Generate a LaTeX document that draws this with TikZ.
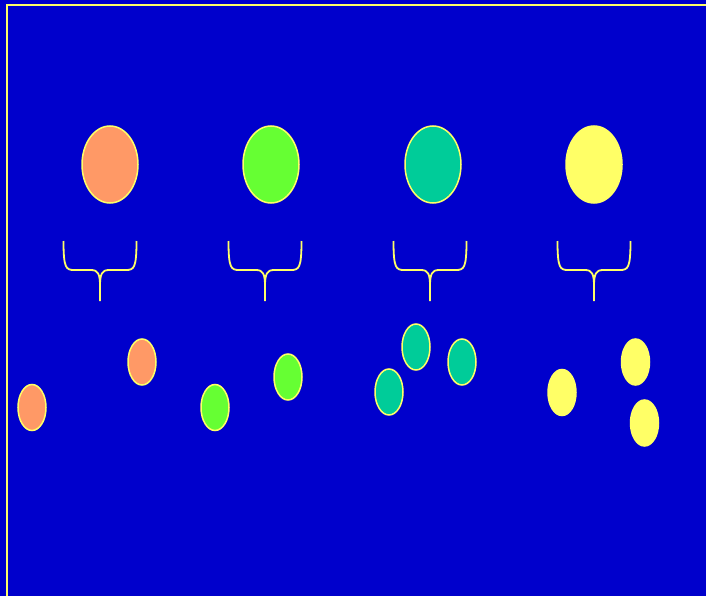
\documentclass[tikz,border=0pt]{standalone}
\usetikzlibrary{shapes.geometric}
\begin{document}
\begin{tikzpicture}[x=1pt,y=-1pt,
  every node/.style={inner sep=0pt,outer sep=0pt},
  bigell/.style={ellipse,minimum width=56pt,minimum height=77pt,draw=yel,line width=1.5pt},
  smallell/.style={ellipse,minimum width=28pt,minimum height=46pt,draw=yel,line width=1.5pt},
  bracestyle/.style={draw=yel,line width=1.8pt},
  ]
\definecolor{bg}{HTML}{0000CC}
\definecolor{yel}{HTML}{FFFF66}
\definecolor{orng}{HTML}{FF9966}
\definecolor{grn}{HTML}{66FF33}
\definecolor{teal2}{HTML}{00CC99}
\useasboundingbox (0,0) rectangle (706,596);
\fill[bg] (0,0) rectangle (706,596);
\coordinate (tl) at (7,5);
\coordinate (tr) at (720,5);
\coordinate (bl) at (7,610);
\draw[yel,line width=2pt] (tr) -- (tl) -- (bl);
% large ellipses
\node[bigell,fill=orng] (b1) at (110,164.5) {};
\node[bigell,fill=grn] (b2) at (271,164.5) {};
\node[bigell,fill=teal2] (b3) at (433,164.5) {};
\node[bigell,fill=yel] (b4) at (594,164.5) {};
% braces
\foreach \c in {100,265,430,594}{
  \draw[bracestyle] (\c-36.5,241) .. controls (\c-36.5,268) and (\c-34,270) .. (\c-26,270)
    -- (\c-9,270) .. controls (\c-2,270) and (\c,274) .. (\c,286) -- (\c,301);
  \draw[bracestyle] (\c+36.5,241) .. controls (\c+36.5,268) and (\c+34,270) .. (\c+26,270)
    -- (\c+9,270) .. controls (\c+2,270) and (\c,274) .. (\c,286);
}
% small ellipses
\node[smallell,fill=orng] (o1) at (32,407.5) {};
\node[smallell,fill=orng] (o2) at (142,362) {};
\node[smallell,fill=grn] (g1) at (215,407.5) {};
\node[smallell,fill=grn] (g2) at (288,377) {};
\node[smallell,fill=teal2] (t1) at (389,392) {};
\node[smallell,fill=teal2] (t2) at (416,347) {};
\node[smallell,fill=teal2] (t3) at (462,362) {};
\node[smallell,fill=yel] (y1) at (562,392.5) {};
\node[smallell,fill=yel] (y2) at (635.5,362) {};
\node[smallell,fill=yel] (y3) at (644.5,423) {};
\end{tikzpicture}
\end{document}
